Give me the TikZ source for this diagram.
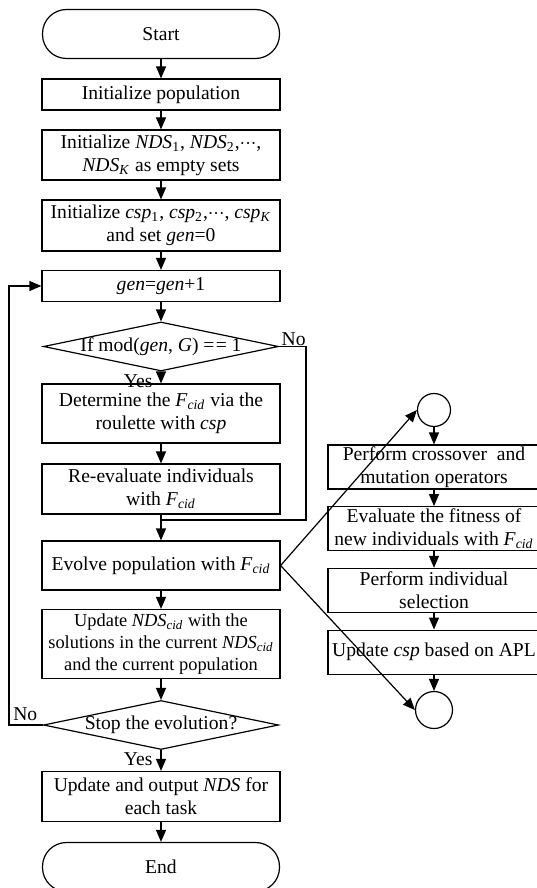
\documentclass[tikz,border=0pt]{standalone}
\usepackage{fontspec}
\setmainfont{Liberation Serif}
\usetikzlibrary{arrows.meta,positioning,calc,shapes.geometric}
\newcommand{\subtxt}[1]{\textsubscript{\textit{#1}}}
\newcommand{\cdotsrow}{$\mathord{\cdot}\mathord{\cdot}\mathord{\cdot}$}
\begin{document}
\begin{tikzpicture}[x=0.5pt,y=-0.5pt,line width=0.6pt,
  every node/.style={font=\fontsize{9.8pt}{11.6pt}\selectfont,inner sep=1pt},
  box/.style={draw,inner sep=0.5pt,minimum width=119pt,align=center},
  term/.style={box,minimum width=118.5pt,minimum height=24.5pt,rounded corners=12pt},
  decision/.style={draw,diamond,inner sep=0pt,minimum width=117.5pt,minimum height=24.5pt},
  circ/.style={draw,circle,inner sep=0pt},
  arr/.style={-{Triangle[length=6pt,width=5pt]}}]
  \useasboundingbox (0,0) rectangle (536,888);
  \node[term] (start) at (161,34) {Start};
  \node[box,minimum height=15.5pt] (init1) at (161,94.5) {Initialize population};
  \node[box,minimum height=25pt] (init2) at (161,155)
    {Initialize \textit{NDS}\textsubscript{1}, \textit{NDS}\textsubscript{2},\cdotsrow,\\
     \textit{NDS}\subtxt{K} as empty sets};
  \node[box,minimum height=25.5pt] (init3) at (161,225.5)
    {Initialize \textit{csp}\textsubscript{1}, \textit{csp}\textsubscript{2},\cdotsrow, \textit{csp}\subtxt{K}\\
     and set \textit{gen}=0};
  \node[box,minimum height=15.5pt] (gen) at (161,286) {\textit{gen}=\textit{gen}+1};
  \node[decision] (mod) at (161,346.5) {};
  \node (modtxt) at (mod) {If mod(\textit{gen}, \textit{G}) =\kern0.6pt= 1};
  \node[box,minimum height=29.5pt] (det) at (161,413.5)
    {Determine the \textit{F}\subtxt{cid} via the\\roulette with \textit{csp}};
  \node[box,minimum height=25pt] (reeval) at (161,489)
    {Re-evaluate individuals\\with \textit{F}\subtxt{cid}};
  \node[box,minimum height=24.5pt] (evolve) at (161,565.5)
    {Evolve population with \textit{F}\subtxt{cid}};
  \node[box,minimum height=34.5pt,font=\fontsize{9.2pt}{11pt}\selectfont] (upd) at (161,644)
    {Update \textit{NDS}\subtxt{cid} with the\\solutions in the current \textit{NDS}\subtxt{cid}\\
     and the current population};
  \node[decision] (stop) at (161,725) {};
  \node (stoptxt) at (stop) {Stop the evolution?};
  \node[box,minimum height=25pt] (out) at (161,796.5)
    {Update and output \textit{NDS} for\\each task};
  \node[term] (finish) at (161,867) {End};

  \node[anchor=north east,xshift=-3pt] (yes1) at (mod.south) {Yes};
  \node[anchor=south west,yshift=-1pt] (no1) at (mod.east) {No};
  \node[anchor=north east,xshift=-3pt] (yes2) at (stop.south) {Yes};
  \node[anchor=south east,xshift=-1.5pt,yshift=1pt] (no2) at (stop.west) {No};

  \foreach \a/\b in {start/init1,init1/init2,init2/init3,init3/gen,gen/mod,mod/det,
      det/reeval,reeval/evolve,evolve/upd,upd/stop,stop/out,out/finish}
    \draw[arr] (\a.south) -- (\b.north);

  \coordinate (join) at (306,520);
  \draw (mod.east) -| (join) -- (join -| reeval.south);
  \coordinate (back) at (9,0);
  \draw[arr] (stop.west) -- (stop.west -| back) |- (gen.west);

  \node[circ,minimum size=16.5pt] (c1) at (434,410) {};
  \foreach \i/\t in {
      1/{Perform crossover\ \ and\\mutation operators},
      2/{Evaluate the fitness of\\new individuals with \textit{F}\subtxt{cid}},
      3/{Perform individual\\selection},
      4/{Update \textit{csp} based on APL}}
    \node[box,minimum width=106pt,minimum height=22pt] (r\i) at (434,{467+61.7*(\i-1)}) {\t};
  \node[circ,minimum size=18.5pt] (c2) at (434,710) {};
  \foreach \a/\b in {c1/r1,r1/r2,r2/r3,r3/r4,r4/c2}
    \draw[arr] (\a.south) -- (\b.north);
  \draw[arr] (evolve.east) -- (c1.west);
  \draw[arr] (evolve.east) -- (c2.west);
\end{tikzpicture}
\end{document}
